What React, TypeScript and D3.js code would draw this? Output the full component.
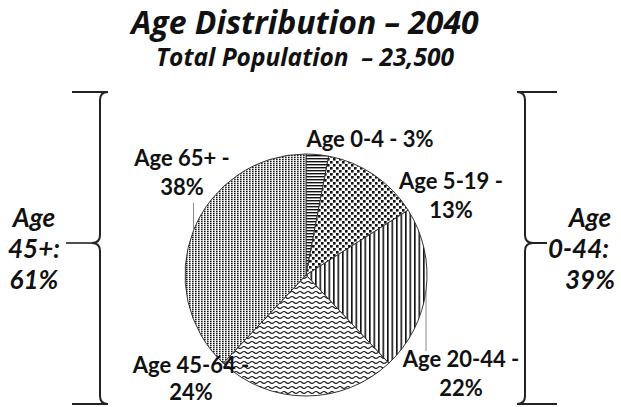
import React from "react";
import * as d3 from "d3";

// Share of the 2040 population by age band, clockwise from 12 o'clock
const categories = ["Age 0-4", "Age 5-19", "Age 20-44", "Age 45-64", "Age 65+"];
const shares = [3, 13, 22, 24, 38];
const patternIds = ["hstripe", "confetti", "vstripe", "wave", "dotgrid"];

// Brace group summaries
const leftGroup = ["Age", "45+:", "61%"];
const rightGroup = ["Age", "0-44:", "39%"];

const title = "Age Distribution – 2040";
const subtitle = "Total Population  – 23,500";

const W = 621;
const H = 407;
const cx = 306;
const cy = 275;
const R = 121;

// label placement per slice: anchor x, first baseline y, line gap, whether it wraps, leader end y
const labelLayout = [
  { x: 370, y: 147, gap: 29, wrap: false, leaderTo: null as number | null },
  { x: 451, y: 189, gap: 29, wrap: true, leaderTo: null },
  { x: 461, y: 367, gap: 29, wrap: true, leaderTo: 351 },
  { x: 191, y: 373, gap: 27, wrap: true, leaderTo: null },
  { x: 182, y: 166, gap: 29, wrap: true, leaderTo: 203 },
];

const labelFont = "Lato, 'Open Sans', sans-serif";
const titleFont = "'Open Sans', 'Noto Sans', sans-serif";

function Brace({ x, dir, top, mid, bottom, endLen }: { x: number; dir: number; top: number; mid: number; bottom: number; endLen: number }) {
  // dir = -1 : tip points left; dir = 1 : tip points right
  const c = 8;
  const e = x - dir * endLen; // ends of the horizontal arms
  const d = [
    `M${e},${top}`,
    `L${x - dir * c},${top}`,
    `Q${x},${top} ${x},${top + c}`,
    `L${x},${mid - c}`,
    `Q${x},${mid} ${x + dir * c},${mid}`,
    `Q${x},${mid} ${x},${mid + c}`,
    `L${x},${bottom - c}`,
    `Q${x},${bottom} ${x - dir * c},${bottom}`,
    `L${e},${bottom}`,
  ].join(" ");
  return <path d={d} fill="none" stroke="#222" strokeWidth={2} />;
}

export default function App() {
  const pie = d3
    .pie<number>()
    .sort(null)
    .value((d) => d)
    .startAngle(0)
    .endAngle(2 * Math.PI);
  const arcs = pie(shares);
  const arc = d3.arc<d3.PieArcDatum<number>>().innerRadius(0).outerRadius(R);

  const edgePoint = (a: d3.PieArcDatum<number>) => {
    const m = (a.startAngle + a.endAngle) / 2;
    return [cx + R * Math.sin(m), cy - R * Math.cos(m)];
  };

  return (
    <svg width={W} height={H} style={{ position: "absolute", left: 0, top: 0, background: "#fff" }}>
      <defs>
        <pattern id="hstripe" width={4} height={3} patternUnits="userSpaceOnUse">
          <rect width={4} height={3} fill="#fff" />
          <rect width={4} height={1.4} fill="#111" />
        </pattern>
        <pattern id="confetti" width={6} height={6} patternUnits="userSpaceOnUse">
          <rect width={6} height={6} fill="#fff" />
          <rect x={0} y={0} width={2.6} height={2.6} fill="#111" />
          <rect x={3} y={3} width={2.6} height={2.6} fill="#111" />
        </pattern>
        <pattern id="vstripe" width={4.5} height={4} patternUnits="userSpaceOnUse">
          <rect width={4.5} height={4} fill="#fff" />
          <rect width={1.6} height={4} fill="#111" />
        </pattern>
        <pattern id="wave" width={8} height={5} patternUnits="userSpaceOnUse">
          <rect width={8} height={5} fill="#fff" />
          <path d="M0,2.5 Q2,0.5 4,2.5 T8,2.5" fill="none" stroke="#111" strokeWidth={1.1} />
        </pattern>
        <pattern id="dotgrid" width={3} height={2} patternUnits="userSpaceOnUse">
          <rect width={3} height={2} fill="#fff" />
          <rect x={0} y={0} width={1.6} height={1.3} fill="#111" />
        </pattern>
      </defs>

      <text x={305} y={34} textAnchor="middle" fontFamily={titleFont} fontWeight={700} fontStyle="italic" fontSize={32} fill="#111">
        {title}
      </text>
      <text x={305} y={66} textAnchor="middle" fontFamily={titleFont} fontWeight={700} fontStyle="italic" fontSize={24.5} fill="#111" style={{ whiteSpace: "pre" }}>
        {subtitle}
      </text>

      <g>
        {arcs.map((a, i) => (
          <path
            key={categories[i]}
            d={arc(a) || ""}
            transform={`translate(${cx},${cy})`}
            fill={`url(#${patternIds[i]})`}
            stroke="#333"
            strokeWidth={1}
          />
        ))}
      </g>

      {arcs.map((a, i) => {
        const L = labelLayout[i];
        if (L.leaderTo == null) return null;
        const [ex, ey] = edgePoint(a);
        return <line key={"ld" + i} x1={ex} y1={ey} x2={ex} y2={L.leaderTo} stroke="#888" strokeWidth={1} />;
      })}

      {arcs.map((a, i) => {
        const L = labelLayout[i];
        const lines = L.wrap ? [`${categories[i]} -`, `${shares[i]}%`] : [`${categories[i]} - ${shares[i]}%`];
        return (
          <text key={"lb" + i} textAnchor="middle" fontFamily={labelFont} fontWeight={700} fontSize={22} fill="#111">
            {lines.map((t, j) => (
              <tspan key={j} x={L.x} y={L.y + j * L.gap}>
                {t}
              </tspan>
            ))}
          </text>
        );
      })}

      <Brace x={100} dir={-1} top={92} mid={243} bottom={404} endLen={-28} />
      <line x1={66} y1={243} x2={92} y2={243} stroke="#222" strokeWidth={1.6} />
      <Brace x={525} dir={1} top={92} mid={243} bottom={404} endLen={-32} />
      <line x1={533} y1={243} x2={547} y2={243} stroke="#222" strokeWidth={2} />

      {leftGroup.map((t, j) => (
        <text key={"lg" + j} x={34} y={227 + j * 31} textAnchor="middle" fontFamily={labelFont} fontWeight={700} fontStyle="italic" fontSize={26} fill="#111">
          {t}
        </text>
      ))}
      {rightGroup.map((t, j) => (
        <text key={"rg" + j} x={j === 1 ? 548 : 590} y={227 + j * 31} textAnchor={j === 1 ? "start" : "middle"} fontFamily={labelFont} fontWeight={700} fontStyle="italic" fontSize={26} fill="#111">
          {t}
        </text>
      ))}
    </svg>
  );
}
